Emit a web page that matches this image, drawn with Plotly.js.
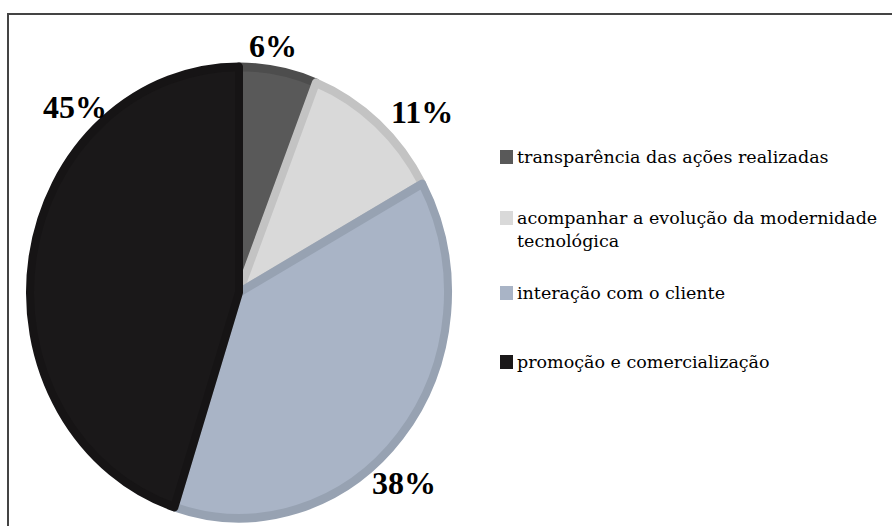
<!DOCTYPE html>
<html>
<head>
<meta charset="utf-8">
<script src="https://cdn.plot.ly/plotly-3.0.1.min.js"></script>
<style>html,body{margin:0;padding:0;background:#fff;}#chart{width:892px;height:526px;}</style>
</head>
<body>
<div id="chart"></div>
<script>
var categories = ["transparência das ações realizadas", "acompanhar a evolução da modernidade<br>tecnológica", "interação com o cliente", "promoção e comercialização"];
var values = [6, 11, 38, 45];
var colors = ["#595959", "#d9d9d9", "#a9b4c6", "#1a1819"];
var borderColors = ["#4d4d4d", "#c3c3c3", "#97a2b2", "#161415"];
var pctLabels = values.map(function(v){ return v + "%"; });

var W = 892, H = 526;
function px(x){ return x / W; }
function py(y){ return 1 - y / H; }

var labelPos = [[273, 46], [422, 112], [404, 483], [75, 107]];
var legendY = [157, 218, 293, 362];

var annotations = [];
var shapes = [];
values.forEach(function(v, i){
  annotations.push({
    xref: "paper", yref: "paper", x: px(labelPos[i][0]), y: py(labelPos[i][1]),
    xanchor: "center", yanchor: "middle", showarrow: false,
    text: "<b>" + pctLabels[i] + "</b>",
    font: {family: "Liberation Serif, Times New Roman, serif", size: 32, color: "#000"}
  });
  annotations.push({
    xref: "paper", yref: "paper", x: px(515), y: py(legendY[i] - 12),
    xanchor: "left", yanchor: "top", align: "left", showarrow: false,
    text: categories[i],
    font: {family: "DejaVu Serif, serif", size: 17.5, color: "#000"}
  });
  shapes.push({
    type: "rect", xref: "paper", yref: "paper",
    x0: px(500), x1: px(513), y0: py(legendY[i] - 7), y1: py(legendY[i] + 7),
    fillcolor: colors[i], line: {width: 0}
  });
});
shapes.push({
  type: "rect", xref: "paper", yref: "paper",
  x0: px(8), x1: px(905), y0: py(14), y1: py(540),
  line: {color: "#444", width: 2}, fillcolor: "rgba(0,0,0,0)", layer: "below"
});

var r = 209, cx = 239, cy = 292.5, stretchY = 230 / 213;
var data = [{
  type: "pie",
  labels: categories,
  values: values,
  sort: false,
  direction: "clockwise",
  rotation: 0,
  textinfo: "none",
  hoverinfo: "none",
  marker: {colors: colors, line: {color: borderColors, width: 8}},
  domain: {x: [px(cx - r), px(cx + r)], y: [py(cy + r), py(cy - r)]},
  showlegend: false
}];

var layout = {
  width: W, height: H,
  margin: {l: 0, r: 0, t: 0, b: 0},
  paper_bgcolor: "#fff",
  showlegend: false,
  annotations: annotations,
  shapes: shapes
};
Plotly.newPlot("chart", data, layout, {displayModeBar: false, staticPlot: true}).then(function(gd){
  var layer = gd.querySelector(".pielayer");
  if (layer) {
    layer.setAttribute("transform", "translate(" + cx + "," + cy + ") scale(1," + stretchY + ") translate(" + (-cx) + "," + (-cy) + ")");
  }
});
</script>
</body>
</html>
